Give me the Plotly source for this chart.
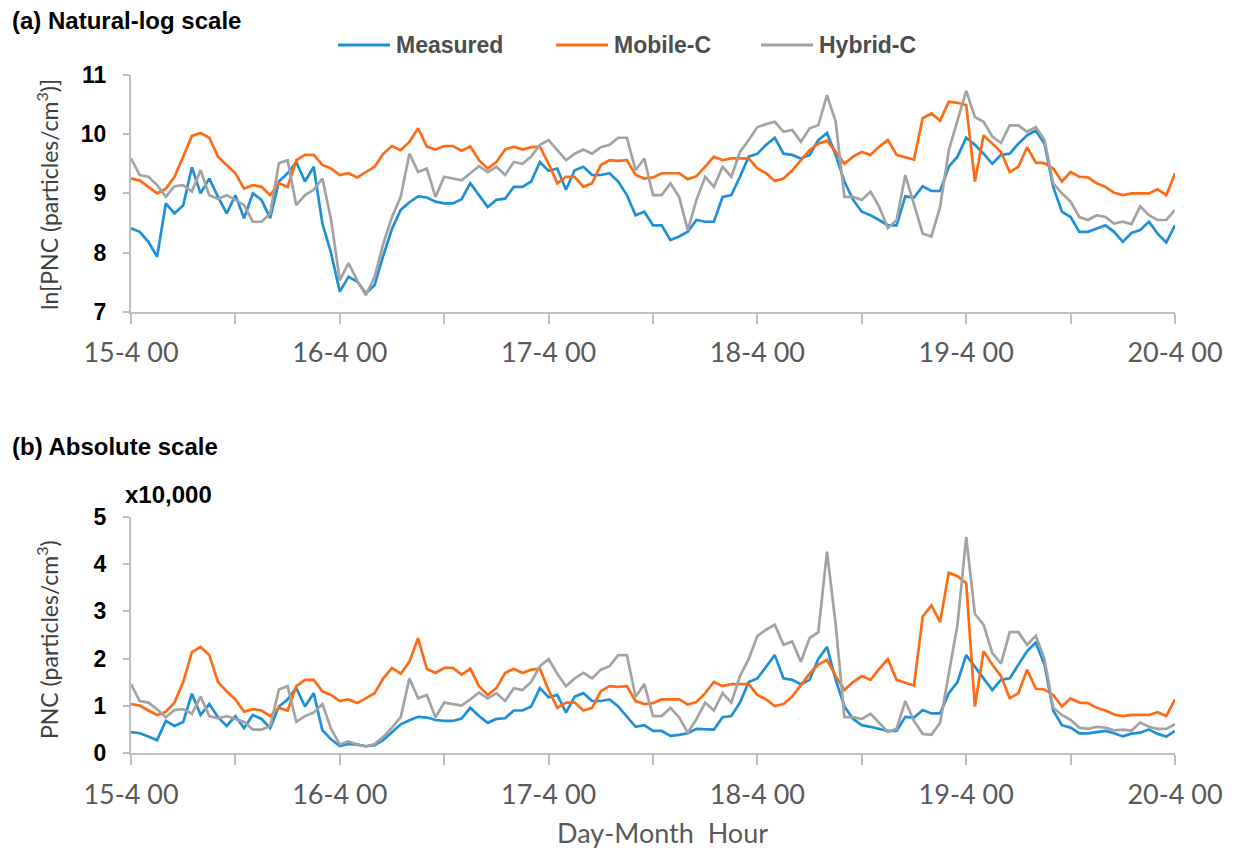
import numpy as np
import plotly.graph_objects as go

# Hours since 15-4 00 (hourly, 5 days)
hours = list(range(0, 121))
day_ticks = [0, 24, 48, 72, 96, 120]
day_labels = ["15-4 00", "16-4 00", "17-4 00", "18-4 00", "19-4 00", "20-4 00"]
half_day_ticks = [12, 36, 60, 84, 108]

# ln(PNC) values
measured_ln = [8.41, 8.35, 8.18, 7.93, 8.83, 8.66, 8.80, 9.44, 9.00, 9.25,
               8.94, 8.66, 8.97, 8.58, 9.00, 8.89, 8.58, 9.20, 9.34, 9.53,
               9.20, 9.45, 8.49, 7.99, 7.34, 7.59, 7.51, 7.31, 7.45, 7.95,
               8.40, 8.72, 8.85, 8.95, 8.93, 8.86, 8.83, 8.83, 8.90, 9.17,
               8.97, 8.77, 8.89, 8.91, 9.11, 9.11, 9.20, 9.53, 9.38, 9.42,
               9.06, 9.39, 9.45, 9.31, 9.31, 9.34, 9.20, 8.97, 8.63, 8.69,
               8.46, 8.46, 8.21, 8.27, 8.35, 8.55, 8.52, 8.52, 8.94, 8.97,
               9.28, 9.62, 9.67, 9.82, 9.94, 9.67, 9.65, 9.59, 9.65, 9.90,
               10.02, 9.65, 9.20, 8.89, 8.69, 8.63, 8.55, 8.46, 8.46, 8.95,
               8.93, 9.12, 9.04, 9.04, 9.45, 9.62, 9.94, 9.82, 9.67, 9.50,
               9.65, 9.67, 9.84, 9.98, 10.06, 9.84, 9.11, 8.69, 8.60, 8.35,
               8.35, 8.41, 8.46, 8.35, 8.18, 8.33, 8.38, 8.52, 8.32, 8.17,
               8.46]
mobile_ln = [9.25, 9.22, 9.11, 9.00, 9.08, 9.28, 9.62, 9.97, 10.02, 9.94,
             9.62, 9.48, 9.34, 9.08, 9.14, 9.11, 8.97, 9.17, 9.11, 9.56,
             9.65, 9.65, 9.48, 9.42, 9.31, 9.34, 9.27, 9.36, 9.45, 9.67,
             9.80, 9.73, 9.87, 10.10, 9.79, 9.74, 9.80, 9.80, 9.72, 9.79,
             9.56, 9.42, 9.53, 9.74, 9.79, 9.74, 9.78, 9.79, 9.50, 9.17,
             9.28, 9.28, 9.11, 9.17, 9.48, 9.56, 9.55, 9.56, 9.31, 9.25,
             9.27, 9.34, 9.34, 9.34, 9.24, 9.29, 9.45, 9.62, 9.56, 9.59,
             9.59, 9.59, 9.42, 9.34, 9.21, 9.25, 9.39, 9.57, 9.73, 9.84,
             9.89, 9.70, 9.50, 9.62, 9.70, 9.65, 9.79, 9.90, 9.65, 9.61,
             9.57, 10.27, 10.35, 10.23, 10.55, 10.53, 10.49, 9.20, 9.98, 9.84,
             9.70, 9.36, 9.45, 9.78, 9.52, 9.51, 9.42, 9.20, 9.36, 9.28,
             9.27, 9.17, 9.11, 9.01, 8.97, 9.00, 9.00, 9.00, 9.07, 8.97,
             9.34]
hybrid_ln = [9.59, 9.31, 9.28, 9.14, 8.94, 9.12, 9.14, 9.03, 9.39, 8.97,
             8.91, 8.97, 8.89, 8.80, 8.52, 8.52, 8.66, 9.51, 9.56, 8.80,
             8.97, 9.06, 9.25, 8.55, 7.53, 7.82, 7.53, 7.28, 7.59, 8.15,
             8.60, 8.94, 9.67, 9.36, 9.42, 8.94, 9.28, 9.25, 9.22, 9.34,
             9.46, 9.36, 9.45, 9.31, 9.53, 9.50, 9.62, 9.82, 9.90, 9.73,
             9.56, 9.67, 9.74, 9.67, 9.78, 9.82, 9.94, 9.94, 9.39, 9.59,
             8.97, 8.97, 9.17, 8.94, 8.38, 8.89, 9.28, 9.11, 9.45, 9.28,
             9.70, 9.90, 10.12, 10.17, 10.21, 10.04, 10.07, 9.87, 10.10, 10.15,
             10.66, 10.21, 8.94, 8.94, 8.89, 9.03, 8.77, 8.41, 8.55, 9.31,
             8.83, 8.32, 8.27, 8.77, 9.73, 10.21, 10.73, 10.29, 10.21, 9.96,
             9.85, 10.15, 10.15, 10.04, 10.12, 9.90, 9.17, 9.00, 8.86, 8.60,
             8.55, 8.63, 8.60, 8.49, 8.52, 8.48, 8.78, 8.63, 8.55, 8.55,
             8.72]

series_names = ["Measured", "Mobile-C", "Hybrid-C"]
series_ln = [measured_ln, mobile_ln, hybrid_ln]
colors = ["#1E90D8", "#FF6A14", "#A3A3A3"]

W, H = 1244, 857
OFF = 8  # page body margin offset
L, R = 131 - OFF, 1175 - OFF


def px_x(x):
    return (x - OFF - L) / (R - L)


def px_y(y):
    return (H - (y - OFF)) / H


fig = go.Figure()
for name, vals, col in zip(series_names, series_ln, colors):
    v = np.array(vals)
    fig.add_trace(go.Scatter(x=hours, y=v, mode="lines", name=name,
                             line=dict(color=col, width=2.7),
                             xaxis="x", yaxis="y", showlegend=False))
    fig.add_trace(go.Scatter(x=hours, y=np.exp(v) / 10000.0, mode="lines", name=name,
                             line=dict(color=col, width=2.7),
                             xaxis="x2", yaxis="y2", showlegend=False))

axis_col = "#BFBFBF"

xcommon = dict(range=[0, 120], tickmode="array", tickvals=day_ticks, ticktext=day_labels,
               showline=True, linecolor=axis_col, linewidth=2, ticks="outside",
               ticklen=10, tickwidth=2, tickcolor=axis_col, showgrid=False, zeroline=False,
               minor=dict(tickmode="array", tickvals=half_day_ticks, ticks="outside",
                          ticklen=10, tickwidth=2, tickcolor=axis_col, showgrid=False),
               tickfont=dict(family="Lato", size=27, color="#595959"),
               ticklabelstandoff=6, domain=[0, 1], automargin=False)
ycommon = dict(showline=True, linecolor=axis_col, linewidth=2, ticks="outside",
               ticklen=6, tickwidth=2, tickcolor=axis_col, showgrid=False, zeroline=False,
               tickfont=dict(family="Liberation Sans", size=23, color="#000000", weight="bold"),
               ticklabelstandoff=12, dtick=1, automargin=False)

fig.update_layout(
    width=W, height=H,
    margin=dict(l=L, r=W - R, t=0, b=0, autoexpand=False),
    paper_bgcolor="white", plot_bgcolor="white",
    xaxis=dict(anchor="y", **xcommon),
    yaxis=dict(anchor="x", range=[7, 11], domain=[px_y(311.7), px_y(75)], **ycommon),
    xaxis2=dict(anchor="y2", **xcommon),
    yaxis2=dict(anchor="x2", range=[0, 5], domain=[px_y(753.3), px_y(516.7)], **ycommon),
    showlegend=False,
)

ann = [
    dict(text="(a) Natural-log scale", x=px_x(10), y=px_y(21), xanchor="left", yanchor="middle",
         font=dict(family="Liberation Sans", size=24, color="#000000", weight="bold")),
    dict(text="(b) Absolute scale", x=px_x(10), y=px_y(446), xanchor="left", yanchor="middle",
         font=dict(family="Liberation Sans", size=24, color="#000000", weight="bold")),
    dict(text="x10,000", x=px_x(123), y=px_y(495), xanchor="left", yanchor="middle",
         font=dict(family="Liberation Sans", size=24, color="#000000", weight="bold")),
    dict(text="ln[PNC (particles/cm<sup>3</sup>)]", x=px_x(47), y=px_y(195), xanchor="center",
         yanchor="middle", textangle=-90,
         font=dict(family="Lato", size=23, color="#404040")),
    dict(text="PNC (particles/cm<sup>3</sup>)", x=px_x(47), y=px_y(640), xanchor="center",
         yanchor="middle", textangle=-90,
         font=dict(family="Lato", size=23, color="#404040")),
    dict(text="Day-Month  Hour", x=px_x(662), y=px_y(832), xanchor="center", yanchor="middle",
         font=dict(family="Lato", size=27, color="#595959")),
]

# Legend keys (drawn manually to match the reference placement)
legend_line_x = [(338, 390), (556, 608), (761, 813)]
shapes = []
for name, col, (x0, x1) in zip(series_names, colors, legend_line_x):
    shapes.append(dict(type="line", xref="paper", yref="paper",
                       x0=px_x(x0), x1=px_x(x1), y0=px_y(45), y1=px_y(45),
                       line=dict(color=col, width=3)))
    ann.append(dict(text=name, x=px_x(x1 + 4), y=px_y(45), xanchor="left", yanchor="middle",
                    font=dict(family="Liberation Sans", size=23, color="#4D4D4D", weight="bold")))

for a in ann:
    a.update(xref="paper", yref="paper", showarrow=False)
fig.update_layout(annotations=ann, shapes=shapes)

fig.write_html("out.html")
